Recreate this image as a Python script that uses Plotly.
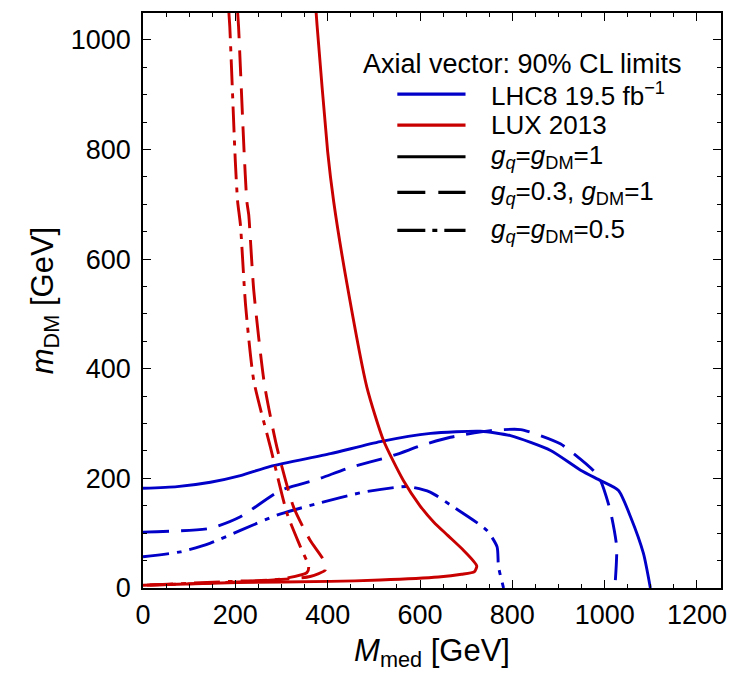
import plotly.graph_objects as go

# ---------------- data ----------------
# LHC8 19.5 fb^-1 (blue)
lhc_g1_x = [0, 74, 146, 211, 276, 406, 514, 623, 731, 796, 883, 948, 991, 1030, 1056, 1084, 1099]
lhc_g1_y = [182, 185, 193, 205, 222, 245, 267, 282, 286, 278, 251, 215, 196, 178, 130, 63, 0]

lhc_g03_x = [0, 146, 211, 298, 377, 449, 536, 610, 666, 753, 818, 904, 976, 991, 1012, 1026, 1022]
lhc_g03_y = [102, 109, 130, 178, 198, 220, 240, 262, 275, 287, 289, 263, 214, 196, 142, 75, 0]

lhc_g05_x = [0, 81, 146, 211, 290, 377, 478, 572, 622, 672, 745, 767, 770, 781]
lhc_g05_y = [57, 66, 82, 105, 133, 154, 175, 185, 175, 148, 105, 75, 39, 0]

# LUX 2013 (red)
lux_g1_x = [375, 377, 400, 413, 442, 485, 521, 564, 600, 630, 660, 694, 715, 723, 718, 690, 640, 514, 406, 204, 0]
lux_g1_y = [1050, 1027, 796, 705, 554, 366, 269, 196, 150, 120, 96, 69, 50, 40, 30, 25, 20, 14.5, 12, 10, 5]

lux_g03_x = [205, 207, 219, 225, 229, 240, 263, 290, 326, 362, 391, 395, 362, 290, 150, 0]
lux_g03_y = [1050, 1024, 796, 705, 681, 542, 372, 257, 148, 87, 51, 33, 21, 15, 9, 5]

lux_g05_x = [186, 188, 200, 205, 211, 222, 240, 276, 312, 341, 359, 355, 297, 189, 0]
lux_g05_y = [1050, 1024, 778, 705, 663, 518, 378, 257, 136, 75, 39, 28, 16, 12, 5]

x_ticks = [0, 200, 400, 600, 800, 1000, 1200]
y_ticks = [0, 200, 400, 600, 800, 1000]

legend_header = "Axial vector: 90% CL limits"
legend_labels = [
    "LHC8 19.5 fb<sup>\u22121</sup>",
    "LUX 2013",
    "<i>g</i><sub><i>q</i></sub>=<i>g</i><sub>DM</sub>=1",
    "<i>g</i><sub><i>q</i></sub>=0.3, <i>g</i><sub>DM</sub>=1",
    "<i>g</i><sub><i>q</i></sub>=<i>g</i><sub>DM</sub>=0.5",
]

# ---------------- styles ----------------
BLUE = "rgb(0,0,200)"
RED = "rgb(200,0,0)"
DASH = "26px,12px"
DASHDOT = "26px,8px,5px,8px"
LW = 2.9
FONT = "Liberation Sans, Arial, Helvetica, sans-serif"

legend_colors = [BLUE, RED, "black", "black", "black"]
legend_dashes = ["solid", "solid", "solid", "28px,13px", "28px,7px,5px,7px"]

fig = go.Figure()

series = [
    (lhc_g1_x, lhc_g1_y, BLUE, "solid"),
    (lhc_g03_x, lhc_g03_y, BLUE, DASH),
    (lhc_g05_x, lhc_g05_y, BLUE, DASHDOT),
    (lux_g1_x, lux_g1_y, RED, "solid"),
    (lux_g03_x, lux_g03_y, RED, DASH),
    (lux_g05_x, lux_g05_y, RED, DASHDOT),
]
for xs, ys, col, dash in series:
    fig.add_trace(go.Scatter(
        x=xs, y=ys, mode="lines",
        line=dict(color=col, width=LW, dash=dash, shape="spline", smoothing=0.6),
        showlegend=False, hoverinfo="skip",
    ))

axis_common = dict(
    showgrid=False, zeroline=False,
    showline=True, linecolor="black", linewidth=1.6, mirror="ticks",
    ticks="inside", ticklen=8, tickwidth=1.3, tickcolor="black",
    tickfont=dict(family=FONT, size=27, color="black"),
    minor=dict(ticks="inside", ticklen=4.5, tickwidth=1.1, tickcolor="black", dtick=50),
)

fig.update_xaxes(
    range=[0, 1252], tickvals=x_ticks, ticktext=[str(v) for v in x_ticks],
    title=dict(text="<i>M</i><sub>med</sub> [GeV]", font=dict(family=FONT, size=31, color="black"), standoff=10),
    ticklabelstandoff=2,
    **axis_common,
)
fig.update_yaxes(
    range=[0, 1049], tickvals=y_ticks, ticktext=[str(v) for v in y_ticks],
    title=dict(text="<i>m</i><sub>DM</sub> [GeV]", font=dict(family=FONT, size=31, color="black"), standoff=8),
    ticklabelstandoff=5,
    **axis_common,
)

# ---------------- manual legend ----------------
shapes = []
annotations = [dict(
    x=0.378, y=0.911, xref="paper", yref="paper", xanchor="left", yanchor="middle",
    text=legend_header, showarrow=False, font=dict(family=FONT, size=27, color="black"),
)]
row_y = [0.859, 0.805, 0.750, 0.688, 0.622]
for lab, col, dash, yy in zip(legend_labels, legend_colors, legend_dashes, row_y):
    shapes.append(dict(type="line", xref="paper", yref="paper",
                       x0=0.440, x1=0.558, y0=yy, y1=yy,
                       line=dict(color=col, width=3.2, dash=dash)))
    annotations.append(dict(
        x=0.598, y=yy, xref="paper", yref="paper", xanchor="left", yanchor="middle",
        text=lab, showarrow=False, font=dict(family=FONT, size=26, color="black"),
    ))

# the page places the figure 8 px from the top-left corner of the window
fig.update_layout(
    width=741, height=672,
    margin=dict(l=135, r=28, t=3, b=92),
    paper_bgcolor="white", plot_bgcolor="white",
    shapes=shapes, annotations=annotations,
    showlegend=False,
)

fig.write_html("out.html")
